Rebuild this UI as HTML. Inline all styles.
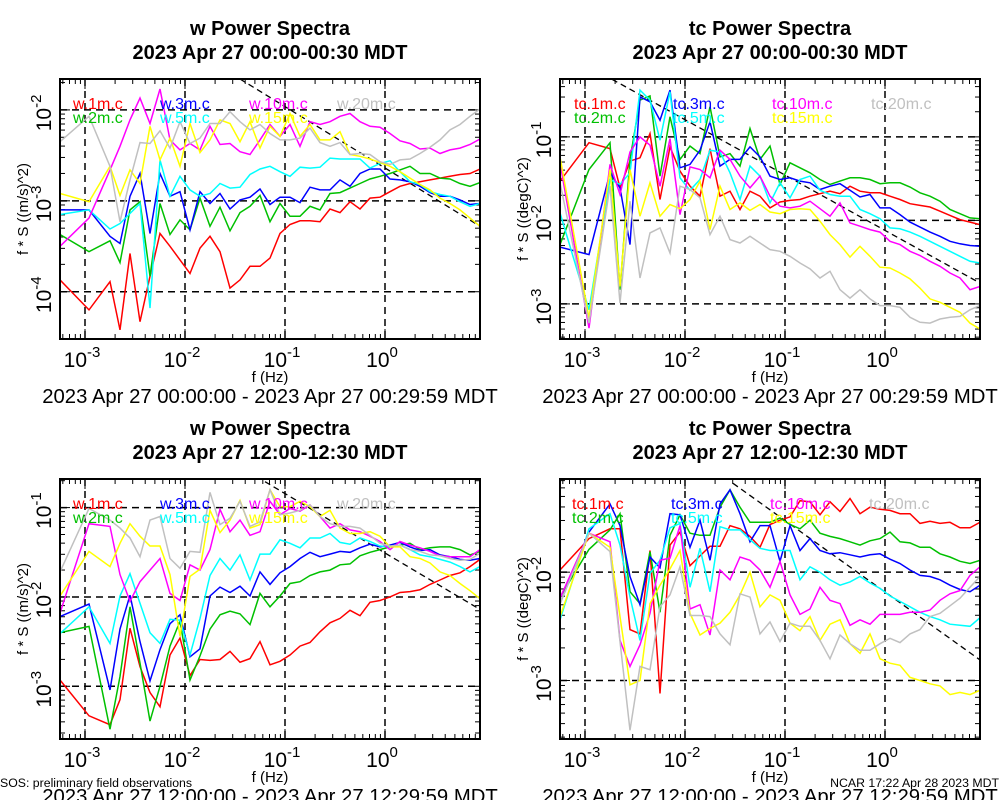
<!DOCTYPE html>
<html><head><meta charset="utf-8"><style>
html,body{margin:0;padding:0;background:#fff;width:1000px;height:800px;overflow:hidden}
svg{display:block;font-family:"Liberation Sans",sans-serif}
</style></head><body>
<svg id="chart" width="1000" height="800" viewBox="0 0 1000 800" xmlns="http://www.w3.org/2000/svg"></svg>
<script>
// shared frequency grid (log10 Hz)
const logFreq = [-3.25,-2.96,-2.75,-2.65,-2.55,-2.45,-2.35,-2.25,-2.15,-2.05,-1.95,-1.85,-1.75,-1.65,-1.55,-1.45,-1.35,-1.25,-1.15,-1.05,-0.95,-0.85,-0.75,-0.65,-0.55,-0.45,-0.35,-0.25,-0.15,-0.05,0.05,0.15,0.25,0.35,0.45,0.55,0.65,0.75,0.85,0.95];
const xTickExp = [-3,-2,-1,0];
const seriesColors = ["#ff0000","#00c000","#0000ff","#00ffff","#ff00ff","#ffff00","#c0c0c0"];

// Panel 1: w 00:00 (log10 power)
const w1_1m = [-3.87,-4.20,-3.89,-4.42,-3.58,-4.33,-3.83,-3.36,-3.50,-3.65,-3.80,-3.52,-3.39,-3.56,-3.96,-3.87,-3.72,-3.72,-3.63,-3.36,-3.26,-3.22,-3.22,-3.23,-3.09,-3.13,-3.01,-3.09,-2.97,-2.96,-2.90,-2.84,-2.81,-2.79,-2.77,-2.75,-2.73,-2.71,-2.70,-2.65];
const w1_2m = [-3.37,-3.56,-3.44,-3.68,-3.10,-3.01,-3.83,-3.03,-3.37,-3.21,-3.32,-2.97,-3.28,-3.07,-3.33,-3.13,-3.06,-2.94,-3.23,-3.03,-3.17,-3.17,-3.06,-3.10,-2.92,-2.91,-2.86,-2.81,-2.76,-2.73,-2.70,-2.66,-2.62,-2.70,-2.70,-2.75,-2.76,-2.81,-2.84,-2.80];
const w1_3m = [-3.10,-3.10,-3.39,-3.47,-2.95,-2.70,-3.36,-2.70,-2.95,-2.90,-3.32,-2.90,-3.03,-2.92,-3.09,-2.99,-2.96,-2.87,-3.04,-2.96,-2.96,-3.02,-2.85,-2.88,-2.88,-2.77,-2.84,-2.70,-2.65,-2.65,-2.76,-2.77,-2.79,-2.84,-2.91,-2.95,-2.95,-2.99,-3.04,-3.03];
const w1_5m = [-3.15,-3.10,-3.31,-3.25,-3.14,-3.03,-4.18,-2.55,-2.95,-2.73,-2.88,-2.95,-2.92,-2.81,-2.86,-2.85,-2.71,-2.65,-2.62,-2.68,-2.73,-2.63,-2.64,-2.63,-2.53,-2.54,-2.54,-2.54,-2.64,-2.59,-2.56,-2.68,-2.79,-2.82,-2.90,-2.93,-2.95,-3.01,-3.06,-3.03];
const w1_10m = [-3.50,-3.19,-2.66,-2.40,-2.11,-1.87,-2.15,-1.77,-2.33,-2.44,-2.37,-2.44,-2.18,-2.38,-2.37,-2.46,-2.49,-2.33,-2.16,-2.29,-2.16,-2.40,-2.13,-2.16,-2.13,-2.07,-2.04,-2.13,-2.18,-2.19,-2.26,-2.34,-2.37,-2.43,-2.42,-2.48,-2.44,-2.42,-2.38,-2.32];
const w1_15m = [-2.92,-3.01,-2.62,-2.94,-2.66,-2.81,-2.18,-2.55,-2.31,-2.62,-2.15,-2.47,-2.33,-2.11,-2.15,-2.35,-2.13,-2.42,-2.18,-2.29,-2.04,-2.29,-2.16,-2.33,-2.33,-2.24,-2.49,-2.51,-2.54,-2.58,-2.62,-2.68,-2.75,-2.82,-2.88,-2.97,-3.03,-3.10,-3.19,-3.28];
const w1_20m = [-2.35,-2.07,-2.62,-3.23,-2.77,-2.36,-2.37,-2.23,-2.42,-2.13,-2.37,-2.31,-2.15,-2.15,-2.02,-2.13,-2.22,-2.16,-2.26,-2.33,-2.33,-2.31,-2.20,-2.36,-2.40,-2.36,-2.49,-2.48,-2.49,-2.57,-2.60,-2.55,-2.54,-2.48,-2.41,-2.33,-2.22,-2.16,-2.07,-1.99];
const w1_refF = [-1.45,0.95], w1_refP = [-1.66,-3.28];

// Panel 2: tc 00:00
const t1_1m = [-1.53,-1.07,-1.14,-1.61,-1.29,-1.25,-0.96,-1.75,-1.12,-1.41,-1.59,-1.71,-1.14,-1.71,-1.65,-1.87,-1.65,-1.71,-1.85,-1.78,-1.76,-1.75,-1.71,-1.68,-1.65,-1.68,-1.59,-1.65,-1.67,-1.67,-1.71,-1.75,-1.80,-1.82,-1.84,-1.89,-1.94,-1.99,-2.02,-2.05];
const t1_2m = [-2.29,-1.39,-1.07,-2.83,-1.27,-0.56,-0.51,-1.47,-0.76,-1.27,-1.11,-1.20,-0.64,-1.24,-1.20,-1.35,-0.90,-1.27,-1.11,-1.57,-1.31,-1.37,-1.43,-1.51,-1.57,-1.53,-1.49,-1.49,-1.51,-1.56,-1.55,-1.55,-1.60,-1.67,-1.71,-1.77,-1.87,-1.92,-1.97,-1.98];
const t1_3m = [-2.32,-2.41,-1.43,-1.61,-2.29,-0.52,-0.58,-0.80,-0.44,-1.37,-1.33,-1.16,-0.82,-1.35,-1.27,-1.27,-1.12,-1.24,-1.47,-1.51,-1.49,-1.53,-1.55,-1.63,-1.59,-1.56,-1.64,-1.72,-1.69,-1.85,-1.85,-1.93,-2.02,-2.08,-2.14,-2.19,-2.25,-2.28,-2.30,-2.31];
const t1_5m = [-1.91,-3.07,-1.51,-1.57,-1.43,-0.44,-0.56,-1.04,-0.46,-1.49,-1.64,-1.51,-1.16,-1.18,-1.43,-1.75,-1.35,-1.47,-1.79,-1.55,-1.73,-1.51,-1.47,-1.64,-1.69,-1.71,-1.71,-1.87,-1.92,-1.98,-2.09,-2.10,-2.14,-2.19,-2.25,-2.31,-2.37,-2.43,-2.49,-2.51];
const t1_10m = [-1.31,-3.29,-1.33,-1.69,-1.18,-1.00,-1.10,-1.59,-1.02,-1.93,-1.36,-1.39,-1.49,-1.16,-1.27,-1.47,-1.61,-1.47,-1.71,-1.83,-1.85,-1.83,-1.77,-1.86,-1.95,-1.79,-2.03,-2.07,-2.11,-2.14,-2.25,-2.29,-2.37,-2.42,-2.49,-2.55,-2.63,-2.69,-2.83,-2.79];
const t1_15m = [-1.24,-3.17,-1.39,-2.79,-1.39,-1.95,-1.55,-1.95,-1.81,-1.86,-1.75,-1.53,-2.11,-1.59,-1.87,-1.79,-1.88,-1.81,-1.90,-1.92,-1.87,-1.86,-1.87,-2.01,-2.17,-2.29,-2.44,-2.31,-2.43,-2.56,-2.57,-2.63,-2.70,-2.81,-2.94,-2.98,-3.04,-3.10,-3.23,-3.30];
const t1_20m = [-1.55,-3.23,-1.59,-2.99,-1.77,-2.69,-2.15,-2.09,-2.39,-1.59,-1.63,-1.73,-2.17,-1.95,-2.23,-2.27,-2.19,-2.27,-2.35,-2.37,-2.43,-2.51,-2.58,-2.69,-2.61,-2.83,-2.93,-2.83,-2.94,-3.02,-3.02,-3.04,-3.16,-3.22,-3.23,-3.18,-3.16,-3.15,-3.07,-3.02];
const t1_refF = [-2.73,0.95], t1_refP = [-0.31,-2.75];

// Panel 3: w 12:00
const w2_1m = [-2.93,-3.33,-3.43,-3.15,-2.35,-2.78,-3.07,-3.23,-2.65,-2.46,-2.88,-2.70,-2.71,-2.70,-2.61,-2.73,-2.69,-2.50,-2.76,-2.72,-2.65,-2.55,-2.51,-2.39,-2.29,-2.24,-2.15,-2.21,-2.06,-2.04,-2.00,-1.95,-1.94,-1.92,-1.86,-1.81,-1.76,-1.73,-1.66,-1.58];
const w2_2m = [-2.40,-2.33,-3.48,-2.89,-2.11,-2.74,-3.39,-3.00,-2.55,-2.27,-2.93,-2.66,-2.36,-2.20,-2.16,-2.19,-2.31,-1.96,-2.11,-1.99,-1.85,-1.83,-1.76,-1.72,-1.70,-1.64,-1.63,-1.54,-1.50,-1.47,-1.44,-1.42,-1.40,-1.47,-1.45,-1.44,-1.44,-1.47,-1.53,-1.49];
const w2_3m = [-2.22,-2.08,-3.04,-2.36,-1.98,-2.50,-2.94,-2.59,-2.30,-2.20,-2.67,-2.58,-1.99,-1.89,-1.95,-1.88,-1.99,-1.72,-1.86,-1.73,-1.66,-1.57,-1.50,-1.55,-1.52,-1.49,-1.50,-1.45,-1.41,-1.44,-1.42,-1.39,-1.44,-1.48,-1.47,-1.53,-1.55,-1.58,-1.59,-1.57];
const w2_5m = [-2.41,-2.11,-2.52,-1.99,-1.74,-2.07,-2.40,-2.52,-2.25,-2.26,-2.65,-2.24,-1.76,-1.57,-1.70,-1.53,-1.81,-1.52,-1.52,-1.36,-1.40,-1.45,-1.34,-1.34,-1.29,-1.39,-1.41,-1.34,-1.38,-1.43,-1.44,-1.42,-1.47,-1.53,-1.55,-1.58,-1.61,-1.66,-1.72,-1.66];
const w2_10m = [-2.18,-1.18,-1.21,-1.75,-2.05,-1.83,-1.70,-1.57,-1.96,-2.04,-1.64,-1.70,-1.47,-1.02,-1.27,-1.14,-1.31,-1.27,-0.93,-1.08,-1.01,-1.04,-0.97,-1.10,-1.23,-1.18,-1.25,-1.27,-1.32,-1.38,-1.47,-1.38,-1.42,-1.45,-1.49,-1.54,-1.55,-1.55,-1.55,-1.47];
const w2_15m = [-1.99,-1.49,-1.66,-1.40,-1.18,-1.32,-1.43,-1.43,-1.75,-2.44,-1.77,-1.69,-1.03,-1.28,-1.14,-0.92,-1.23,-1.19,-0.80,-0.99,-0.99,-0.93,-0.99,-1.10,-1.03,-1.23,-1.29,-1.29,-1.27,-1.32,-1.44,-1.44,-1.55,-1.57,-1.62,-1.72,-1.76,-1.85,-1.93,-2.02];
const w2_20m = [-1.72,-1.01,-1.14,-1.23,-1.34,-1.55,-1.14,-1.10,-1.57,-1.68,-1.49,-1.50,-0.83,-1.19,-1.12,-0.93,-1.21,-1.16,-0.80,-1.08,-1.06,-1.03,-0.97,-1.10,-1.18,-1.21,-1.21,-1.23,-1.31,-1.40,-1.43,-1.42,-1.47,-1.49,-1.53,-1.54,-1.57,-1.59,-1.58,-1.51];
const w2_refF = [-1.20,0.95], w2_refP = [-0.71,-2.14];

// Panel 4: tc 12:00
const t2_1m = [-1.98,-1.69,-1.60,-1.60,-2.53,-2.57,-1.80,-3.12,-1.75,-1.63,-1.94,-1.85,-1.76,-1.76,-1.57,-1.60,-1.67,-1.77,-1.56,-1.52,-1.49,-1.34,-1.35,-1.47,-1.35,-1.44,-1.32,-1.46,-1.40,-1.42,-1.43,-1.46,-1.46,-1.55,-1.53,-1.55,-1.54,-1.59,-1.59,-1.54];
const t2_2m = [-2.23,-1.79,-1.61,-1.46,-2.18,-2.29,-1.81,-2.37,-1.66,-1.47,-1.64,-1.66,-1.66,-1.40,-1.24,-1.40,-1.54,-1.54,-1.54,-1.50,-1.56,-1.60,-1.52,-1.64,-1.67,-1.69,-1.72,-1.75,-1.71,-1.69,-1.63,-1.72,-1.73,-1.77,-1.77,-1.83,-1.86,-1.90,-1.92,-1.89];
const t2_3m = [-2.29,-1.63,-1.37,-1.57,-2.04,-2.30,-1.86,-1.96,-1.46,-1.47,-1.77,-1.52,-1.89,-1.37,-1.24,-1.46,-1.72,-1.57,-1.57,-1.90,-1.57,-1.80,-1.69,-1.80,-1.83,-1.82,-1.84,-1.86,-1.84,-1.83,-1.88,-1.92,-1.98,-2.03,-2.04,-2.07,-2.12,-2.16,-2.18,-2.12];
const t2_5m = [-2.44,-1.60,-1.46,-1.75,-2.23,-2.63,-2.01,-1.89,-1.59,-1.55,-2.14,-1.78,-2.18,-1.58,-1.61,-1.61,-1.70,-1.78,-1.80,-1.80,-1.80,-2.07,-1.95,-2.00,-2.07,-2.12,-2.09,-2.04,-2.10,-2.15,-2.22,-2.27,-2.32,-2.37,-2.41,-2.44,-2.48,-2.49,-2.50,-2.42];
const t2_10m = [-2.24,-1.64,-1.72,-2.63,-2.87,-2.67,-2.38,-1.89,-1.87,-1.57,-2.34,-2.30,-2.58,-1.98,-2.07,-1.86,-1.89,-1.98,-2.14,-1.90,-2.21,-2.39,-2.34,-2.14,-2.26,-2.29,-2.49,-2.44,-2.48,-2.39,-2.39,-2.39,-2.37,-2.37,-2.35,-2.26,-2.20,-2.17,-2.03,-1.95];
const t2_15m = [-2.41,-1.64,-1.77,-2.41,-3.04,-3.00,-2.29,-2.12,-1.97,-1.80,-2.38,-2.58,-2.52,-2.47,-2.37,-2.21,-2.00,-2.32,-2.21,-2.26,-2.47,-2.54,-2.41,-2.63,-2.48,-2.44,-2.66,-2.75,-2.57,-2.80,-2.84,-2.86,-2.97,-3.00,-3.03,-3.05,-3.13,-3.11,-3.13,-3.09];
const t2_20m = [-2.29,-1.64,-1.81,-2.64,-3.46,-2.87,-2.90,-2.32,-2.21,-1.95,-2.40,-2.40,-2.41,-2.57,-2.67,-2.20,-2.23,-2.57,-2.46,-2.64,-2.47,-2.50,-2.50,-2.63,-2.80,-2.58,-2.66,-2.72,-2.72,-2.66,-2.61,-2.65,-2.57,-2.53,-2.41,-2.38,-2.31,-2.24,-2.14,-2.04];
const t2_refF = [-1.52,0.95], t2_refP = [-1.18,-2.81];

const wLegend = ["w.1m.c","w.2m.c","w.3m.c","w.5m.c","w.10m.c","w.15m.c","w.20m.c"];
const tcLegend = ["tc.1m.c","tc.2m.c","tc.3m.c","tc.5m.c","tc.10m.c","tc.15m.c","tc.20m.c"];

const NS = "http://www.w3.org/2000/svg";
const svg = document.getElementById("chart");
function mk(tag, attrs, parent){const e=document.createElementNS(NS,tag);for(const k in attrs)e.setAttribute(k,attrs[k]);(parent||svg).appendChild(e);return e;}

const panels = [
 {id:"w-early",x0:60,y0:79,title:"w Power Spectra",sub:"2023 Apr 27 00:00-00:30 MDT",date:"2023 Apr 27 00:00:00 - 2023 Apr 27 00:29:59 MDT",ylab:"f * S ((m/s)^2)",pmax:-1.66,pmin:-4.52,yt:[-2,-3,-4],series:[w1_1m,w1_2m,w1_3m,w1_5m,w1_10m,w1_15m,w1_20m],leg:wLegend,legX:[73,160,249,337],rf:w1_refF,rp:w1_refP},
 {id:"tc-early",x0:560,y0:79,title:"tc Power Spectra",sub:"2023 Apr 27 00:00-00:30 MDT",date:"2023 Apr 27 00:00:00 - 2023 Apr 27 00:29:59 MDT",ylab:"f * S ((degC)^2)",pmax:-0.307,pmin:-3.42,yt:[-1,-2,-3],series:[t1_1m,t1_2m,t1_3m,t1_5m,t1_10m,t1_15m,t1_20m],leg:tcLegend,legX:[574,673,772,871],rf:t1_refF,rp:t1_refP},
 {id:"w-noon",x0:60,y0:479,title:"w Power Spectra",sub:"2023 Apr 27 12:00-12:30 MDT",date:"2023 Apr 27 12:00:00 - 2023 Apr 27 12:29:59 MDT",ylab:"f * S ((m/s)^2)",pmax:-0.68,pmin:-3.59,yt:[-1,-2,-3],series:[w2_1m,w2_2m,w2_3m,w2_5m,w2_10m,w2_15m,w2_20m],leg:wLegend,legX:[73,160,249,337],rf:w2_refF,rp:w2_refP},
 {id:"tc-noon",x0:560,y0:479,title:"tc Power Spectra",sub:"2023 Apr 27 12:00-12:30 MDT",date:"2023 Apr 27 12:00:00 - 2023 Apr 27 12:29:59 MDT",ylab:"f * S ((degC)^2)",pmax:-1.14,pmin:-3.54,yt:[-2,-3],series:[t2_1m,t2_2m,t2_3m,t2_5m,t2_10m,t2_15m,t2_20m],leg:tcLegend,legX:[572,671,770,869],rf:t2_refF,rp:t2_refP}
];
const W=420,H=260,FMIN=-3.25,FMAX=0.95;

panels.forEach(p=>{
  const g = mk("g",{});
  
  
  const X = lf => p.x0 + (lf-FMIN)/(FMAX-FMIN)*W;
  const Y = lp => p.y0 + (p.pmax-lp)/(p.pmax-p.pmin)*H;
  const cx = p.x0 + W/2;
  let t = mk("text",{x:cx,y:p.y0-44,"text-anchor":"middle","font-size":"20","font-weight":"bold"},g); t.textContent=p.title;
  
  
  t = mk("text",{x:cx,y:p.y0-20,"text-anchor":"middle","font-size":"20","font-weight":"bold"},g); t.textContent=p.sub;
  
  
  const cid="clip-"+p.id;
  const cp = mk("clipPath",{id:cid},g); mk("rect",{x:p.x0,y:p.y0,width:W,height:H},cp);
  xTickExp.forEach(e=>{
    const l=mk("line",{x1:X(e),x2:X(e),y1:p.y0,y2:p.y0+H,stroke:"#000","stroke-width":1.5,"stroke-dasharray":"7,5"},g);
    
    
    const tx=mk("text",{x:X(e)-3,y:p.y0+H+28,"text-anchor":"middle","font-size":"21"},g);
    tx.innerHTML='10<tspan dy="-10" font-size="15">'+e+'</tspan>';
    
    
  });
  p.yt.forEach(e=>{
    const l=mk("line",{x1:p.x0,x2:p.x0+W,y1:Y(e),y2:Y(e),stroke:"#000","stroke-width":1.5,"stroke-dasharray":"7,5"},g);
    
    
    const tx=mk("text",{x:0,y:0,"text-anchor":"middle","font-size":"21",transform:"translate("+(p.x0-9)+","+(Y(e)+3)+") rotate(-90)"},g);
    tx.innerHTML='10<tspan dy="-10" font-size="15">'+e+'</tspan>';
    
    
  });
  for(let d=-4;d<=1;d++){for(let m=1;m<10;m++){
    const lf=d+Math.log10(m);
    if(lf>FMIN&&lf<FMAX){const xx=X(lf),len=m==1?10:5;
      mk("line",{x1:xx,x2:xx,y1:p.y0+H,y2:p.y0+H-len,stroke:"#000","stroke-width":1},g);
      mk("line",{x1:xx,x2:xx,y1:p.y0,y2:p.y0+len,stroke:"#000","stroke-width":1},g);}
    if(lf<p.pmax&&lf>p.pmin){const yy=Y(lf),len=m==1?10:5;
      mk("line",{x1:p.x0,x2:p.x0+len,y1:yy,y2:yy,stroke:"#000","stroke-width":1},g);
      mk("line",{x1:p.x0+W,x2:p.x0+W-len,y1:yy,y2:yy,stroke:"#000","stroke-width":1},g);}
  }}
  const rl=mk("line",{x1:X(p.rf[0]),y1:Y(p.rp[0]),x2:X(p.rf[1]),y2:Y(p.rp[1]),stroke:"#000","stroke-width":1.3,"stroke-dasharray":"6,4","clip-path":"url(#"+cid+")"},g);
  
  
  p.series.forEach((s,i)=>{
    const d=s.map((v,k)=>(k?"L":"M")+X(logFreq[k]).toFixed(1)+","+Y(v).toFixed(1)).join("");
    const pa=mk("path",{d:d,fill:"none",stroke:seriesColors[i],"stroke-width":1.5,"clip-path":"url(#"+cid+")"},g);
    
    
  });
  const lx=[p.legX[0],p.legX[0],p.legX[1],p.legX[1],p.legX[2],p.legX[2],p.legX[3]];
  const ly=[109,123,109,123,109,123,109];
  p.leg.forEach((name,i)=>{
    const tx=mk("text",{x:lx[i],y:p.y0-79+ly[i],"font-size":"16",fill:seriesColors[i]},g);
    tx.textContent=name;
    
    
  });
  const b=mk("rect",{x:p.x0,y:p.y0,width:W,height:H,fill:"none",stroke:"#000","stroke-width":2},g);
  
  
  t=mk("text",{x:cx,y:p.y0+H+43,"text-anchor":"middle","font-size":"15"},g); t.textContent="f (Hz)";
  
  
  t=mk("text",{x:0,y:0,"text-anchor":"middle","font-size":"15",transform:"translate("+(p.x0-32)+","+(p.y0+H/2)+") rotate(-90)"},g); t.textContent=p.ylab;
  
  
  t=mk("text",{x:cx,y:p.y0+H+64,"text-anchor":"middle","font-size":"20.3"},g); t.textContent=p.date;
  
  
});
let ft=mk("text",{x:0,y:787,"font-size":"12.3"}); ft.textContent="SOS: preliminary field observations";


ft=mk("text",{x:999,y:787,"font-size":"12.3","text-anchor":"end"}); ft.textContent="NCAR 17:22 Apr 28 2023 MDT";


</script>
</body></html>
